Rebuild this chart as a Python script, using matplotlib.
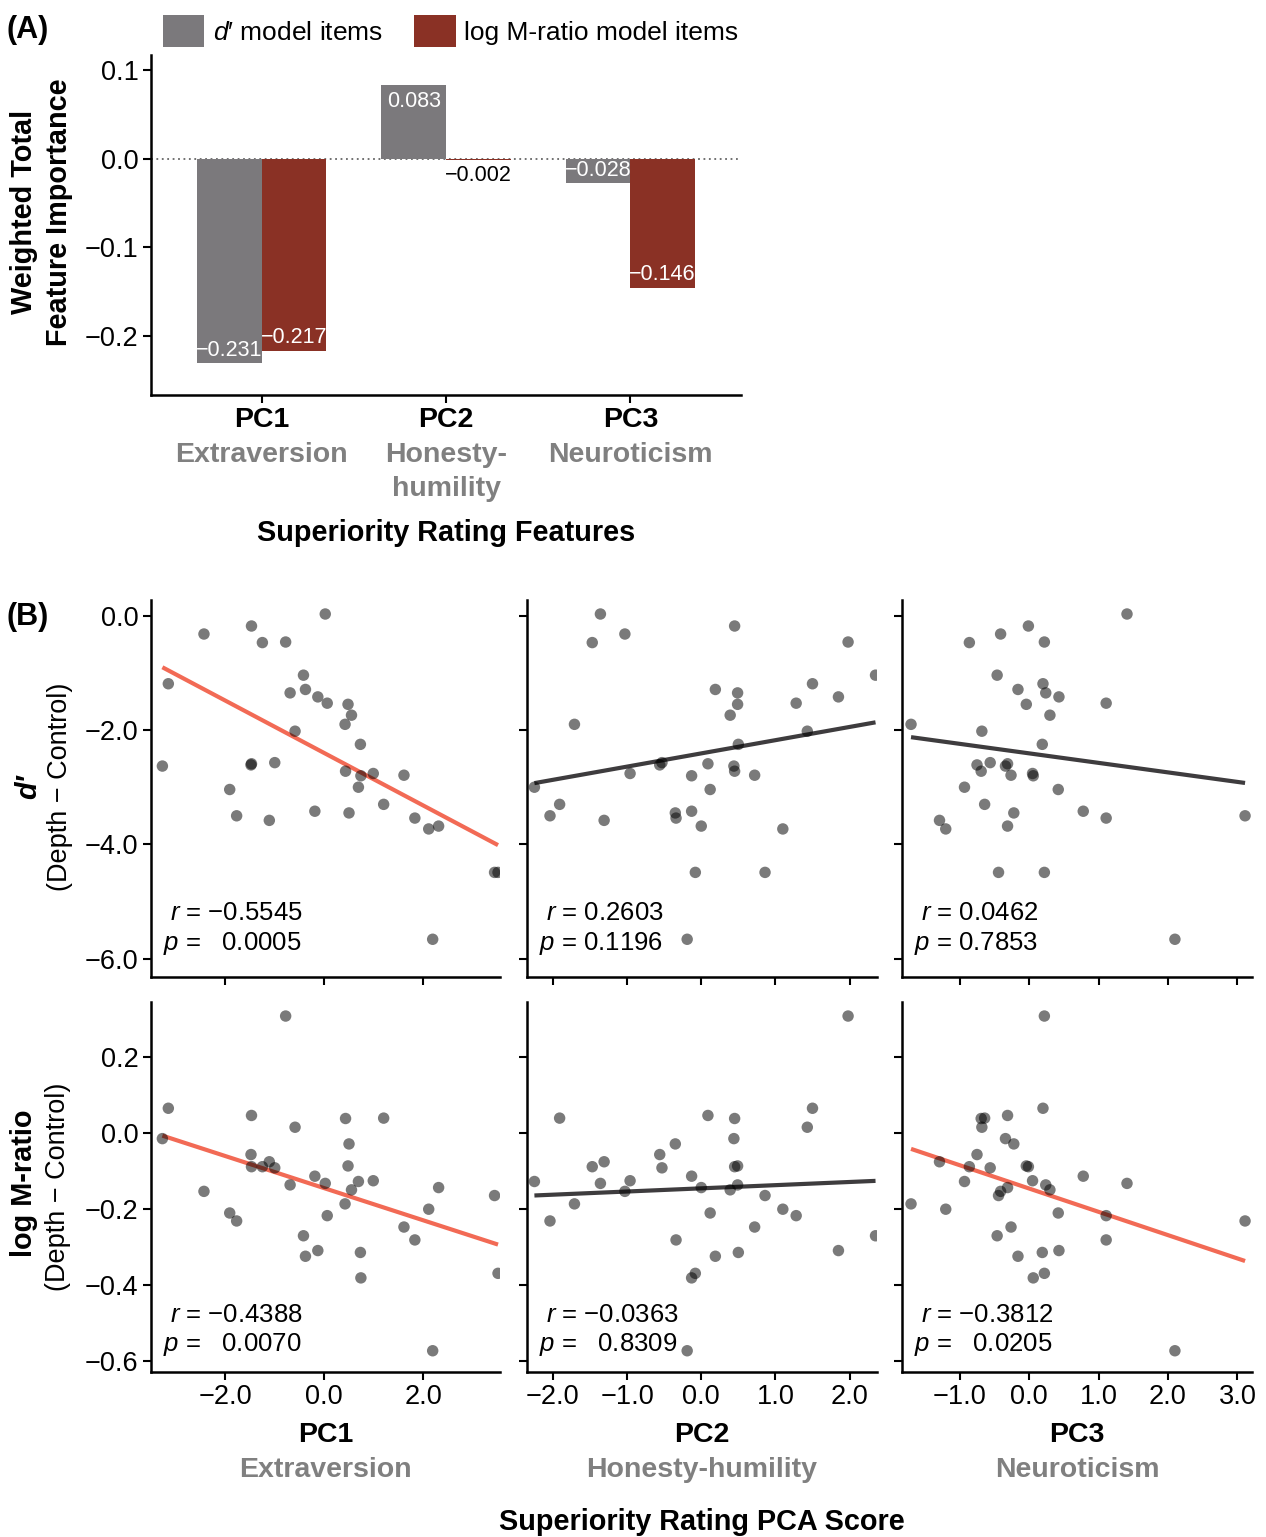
import matplotlib.pyplot as plt
import numpy as np
from matplotlib.ticker import FuncFormatter
from matplotlib.transforms import blended_transform_factory

plt.rcParams['font.family'] = ['Liberation Sans', 'DejaVu Sans']
plt.rcParams['mathtext.fontset'] = 'custom'
plt.rcParams['mathtext.it'] = 'Liberation Sans:italic'
plt.rcParams['mathtext.rm'] = 'Liberation Sans'

# --- data: panel A (weighted total feature importance) ---
pc_names = ["PC1", "PC2", "PC3"]
trait_names = ["Extraversion", "Honesty-humility", "Neuroticism"]
dprime_importance = [-0.231, 0.083, -0.028]
logm_importance = [-0.217, -0.002, -0.146]

# --- data: panel B (one entry per participant) ---
pc1 = [0.02, -1.47, -2.43, -1.25, -0.78, -0.42, -3.15, -0.38, -0.69, -0.13, 0.06, 0.48, 0.55,
       0.42, -0.59, 0.73, -3.27, -1.47, -1.48, -1.00, 0.43, 0.74, 1.61, 0.99, 0.69, -1.91,
       1.20, -1.77, -1.11, -0.19, 0.50, 1.83, 2.11, 2.31, 3.44, 3.51, 2.19]
pc2 = [-1.36, 0.45, -1.03, -1.47, 1.98, 2.35, 1.50, 0.19, 0.49, 1.85, 1.28, 0.49, 0.39,
       -1.71, 1.43, 0.50, 0.44, 0.09, -0.56, -0.53, 0.45, -0.13, 0.72, -0.96, -2.25, 0.12,
       -1.91, -2.04, -1.31, -0.13, -0.35, -0.34, 1.10, 0.00, 0.86, -0.08, -0.19]
pc3 = [1.41, -0.01, -0.41, -0.86, 0.22, -0.46, 0.20, -0.16, 0.24, 0.43, 1.11, -0.04, 0.30,
       -1.70, -0.68, 0.19, -0.34, -0.31, -0.75, -0.56, -0.69, 0.06, -0.26, 0.05, -0.93, 0.42,
       -0.64, 3.11, -1.29, 0.78, -0.22, 1.11, -1.20, -0.31, -0.44, 0.22, 2.10]
dprime = [0.03, -0.18, -0.32, -0.47, -0.46, -1.04, -1.19, -1.29, -1.35, -1.42, -1.53, -1.55,
          -1.74, -1.90, -2.02, -2.25, -2.63, -2.59, -2.61, -2.57, -2.72, -2.80, -2.79, -2.76,
          -3.00, -3.04, -3.30, -3.50, -3.58, -3.42, -3.45, -3.54, -3.73, -3.68, -4.49, -4.49, -5.66]
logm = [-0.133, -0.089, -0.154, -0.089, 0.308, -0.271, 0.065, -0.325, -0.137, -0.310, -0.218,
        -0.087, -0.150, -0.187, 0.015, -0.315, -0.015, 0.046, -0.057, -0.092, 0.038, -0.382,
        -0.248, -0.126, -0.128, -0.211, 0.039, -0.232, -0.076, -0.114, -0.029, -0.282, -0.201,
        -0.144, -0.165, -0.370, -0.574]
r_vals = [[-0.5545, 0.2603, 0.0462], [-0.4388, -0.0363, -0.3812]]
p_vals = [[0.0005, 0.1196, 0.7853], [0.0070, 0.8309, 0.0205]]

GRAY_BAR = "#7b797c"
RED_BAR = "#8a3125"
RED_LINE = "#f26a55"
DARK_LINE = "#3e3c3e"
SUB_GRAY = "#808080"

W, H = 1266, 1537
fig = plt.figure(figsize=(W / 100, H / 100), dpi=100)


def box(l, t, r, b):
    return [l / W, 1 - b / H, (r - l) / W, (b - t) / H]


def fmt(v, d=1):
    if abs(v) < 1e-9:
        v = 0.0
    return f"{v:.{d}f}".replace("-", "\u2212")


def style_axes(ax):
    for s in ["top", "right"]:
        ax.spines[s].set_visible(False)
    for s in ["left", "bottom"]:
        ax.spines[s].set_linewidth(1.8)
    ax.tick_params(length=6, width=1.5, labelsize=19.5, pad=3, colors="black")


# ---------------- Panel A ----------------
axA = fig.add_axes(box(151, 55, 741, 395))
x = np.arange(1, 4)
bw = 0.35
b1 = axA.bar(x - bw / 2, dprime_importance, bw, color=GRAY_BAR, zorder=2)
b2 = axA.bar(x + bw / 2, logm_importance, bw, color=RED_BAR, zorder=2)
axA.axhline(0, color="#666666", ls=(0, (1, 2)), lw=1.3, zorder=1)

for xs, vals in [(x - bw / 2, dprime_importance), (x + bw / 2, logm_importance)]:
    for xi, v in zip(xs, vals):
        if abs(v) > 0.01:
            off, col = (-16 if v > 0 else 13), "white"
        else:
            off, col = -15, "black"
        axA.annotate(fmt(v, 3), (xi, v), xytext=(0, off), textcoords="offset pixels",
                     ha="center", va="center", color=col, fontsize=15.5, zorder=3)

axA.set_xlim(0.4, 3.6)
axA.set_ylim(-0.267, 0.117)
axA.set_xticks(x)
axA.set_xticklabels([])
axA.set_yticks([0.1, 0.0, -0.1, -0.2])
axA.yaxis.set_major_formatter(FuncFormatter(lambda v, _: fmt(v)))
style_axes(axA)

trans = blended_transform_factory(axA.transData, fig.transFigure)
for xi, pc, name in zip(x, pc_names, trait_names):
    axA.text(xi, 1 - 420 / H, pc, transform=trans, ha="center", va="center",
             fontsize=20.5, fontweight="bold")
    for k, line in enumerate(name.replace("-", "-\n").split("\n")):
        axA.text(xi, 1 - (455 + 34 * k) / H, line, transform=trans, ha="center",
                 va="center", fontsize=20.5, fontweight="bold", color=SUB_GRAY)

fig.text(446 / W, 1 - 533 / H, "Superiority Rating Features", ha="center", va="center",
         fontsize=20.8, fontweight="bold")
fig.text(24 / W, 1 - 212 / H, "Weighted Total", rotation=90, ha="center", va="center",
         fontsize=20.8, fontweight="bold")
fig.text(59 / W, 1 - 212 / H, "Feature Importance", rotation=90, ha="center", va="center",
         fontsize=20.8, fontweight="bold")
fig.text(7 / W, 1 - 30 / H, "(A)", ha="left", va="center", fontsize=22, fontweight="bold")

fig.legend([b1, b2], ["$d$\u2032 model items", "log M-ratio model items"],
           loc="center left", bbox_to_anchor=(163 / W, 1 - 31 / H), ncol=2, frameon=False,
           fontsize=19, handlelength=1.56, handleheight=1.44, handletextpad=0.32,
           columnspacing=1.2, borderpad=0, borderaxespad=0)

# ---------------- Panel B ----------------
cols = [(151, 500), (527, 877), (902, 1252)]
rows = [(600, 977), (1002, 1372)]
xlims = [(-3.50, 3.55), (-2.35, 2.37), (-1.83, 3.21)]
xticks = [[-2, 0, 2], [-2, -1, 0, 1, 2], [-1, 0, 1, 2, 3]]
ylims = [(-6.32, 0.275), (-0.63, 0.345)]
yticks = [[0, -2, -4, -6], [0.2, 0.0, -0.2, -0.4, -0.6]]
text_y = [(0.170, 0.090), (0.154, 0.073)]

pcs = [pc1, pc2, pc3]
outcomes = [dprime, logm]

for i, (rt, rb) in enumerate(rows):
    yv = np.array(outcomes[i])
    for j, (cl, cr) in enumerate(cols):
        xv = np.array(pcs[j])
        ax = fig.add_axes(box(cl, rt, cr, rb))
        slope, icpt = np.polyfit(xv, yv, 1)
        xs = np.array([xv.min(), xv.max()])
        ax.plot(xs, slope * xs + icpt, color=RED_LINE if p_vals[i][j] < 0.05 else DARK_LINE,
                lw=3, zorder=2, solid_capstyle="butt")
        ax.scatter(xv, yv, s=68, color="black", alpha=0.52, edgecolors="none", zorder=3)
        ax.set_xlim(*xlims[j])
        ax.set_ylim(*ylims[i])
        ax.set_xticks(xticks[j])
        ax.set_yticks(yticks[i])
        ax.xaxis.set_major_formatter(FuncFormatter(lambda v, _: fmt(v)))
        ax.yaxis.set_major_formatter(FuncFormatter(lambda v, _: fmt(v)))
        style_axes(ax)
        if i == 0:
            ax.set_xticklabels([])
        if j > 0:
            ax.set_yticklabels([])
        r, p = r_vals[i][j], p_vals[i][j]
        pad = "   " if r < 0 else " "
        ax.text(19 / 350, text_y[i][0], f"$r$ = {fmt(r, 4)}", transform=ax.transAxes,
                ha="left", va="center", fontsize=18.5)
        ax.text(12 / 350, text_y[i][1], f"$p$ ={pad}{p:.4f}", transform=ax.transAxes,
                ha="left", va="center", fontsize=18.5)

for (cl, cr), pc, name in zip(cols, pc_names, trait_names):
    cx = (cl + cr) / 2 / W
    fig.text(cx, 1 - 1435 / H, pc, ha="center", va="center", fontsize=20.5, fontweight="bold")
    fig.text(cx, 1 - 1470 / H, name, ha="center", va="center", fontsize=20.5,
             fontweight="bold", color=SUB_GRAY)

fig.text(702 / W, 1 - 1522 / H, "Superiority Rating PCA Score", ha="center", va="center",
         fontsize=20.8, fontweight="bold")
fig.text(7 / W, 1 - 617 / H, "(B)", ha="left", va="center", fontsize=22, fontweight="bold")
fig.text(28 / W, 1 - 787 / H, "d\u2032", rotation=90, ha="center", va="center",
         fontsize=20.8, fontweight="bold", fontstyle="italic")
fig.text(60 / W, 1 - 787 / H, "(Depth \u2212 Control)", rotation=90, ha="center",
         va="center", fontsize=19.5)
fig.text(24 / W, 1 - 1183 / H, "log M-ratio", rotation=90, ha="center", va="center",
         fontsize=20.8, fontweight="bold")
fig.text(58 / W, 1 - 1187 / H, "(Depth \u2212 Control)", rotation=90, ha="center",
         va="center", fontsize=19.5)

fig.savefig("out.png", dpi=100)
